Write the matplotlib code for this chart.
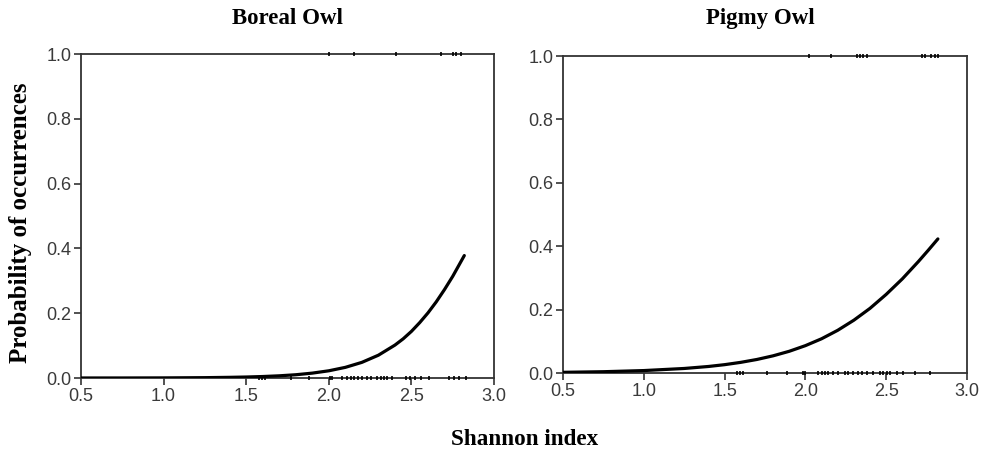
import numpy as np
import matplotlib
matplotlib.use('Agg')
import matplotlib.pyplot as plt

# fitted curves
boreal_x = [0.5, 0.75, 1.0, 1.25, 1.4, 1.5, 1.6, 1.7, 1.8, 1.9, 2.0, 2.1, 2.2, 2.3, 2.4,
            2.45, 2.5, 2.55, 2.6, 2.65, 2.7, 2.75, 2.82]
boreal_y = [0.0001, 0.00015, 0.0004, 0.0011, 0.0021, 0.0031, 0.0046, 0.0068, 0.0101, 0.0151,
            0.0223, 0.0329, 0.0483, 0.0704, 0.1016, 0.121, 0.144, 0.171, 0.201, 0.235,
            0.273, 0.314, 0.378]

pigmy_x = [0.5, 0.75, 1.0, 1.25, 1.4, 1.5, 1.6, 1.7, 1.8, 1.9, 2.0, 2.1, 2.2, 2.3, 2.4,
           2.5, 2.6, 2.7, 2.76, 2.82]
pigmy_y = [0.0022, 0.0041, 0.0077, 0.0143, 0.0206, 0.0263, 0.0336, 0.0427, 0.0542, 0.0685,
           0.0863, 0.108, 0.1347, 0.1666, 0.204, 0.248, 0.297, 0.352, 0.387, 0.423]

# observed sites (rug marks)
boreal_present = [2.00, 2.15, 2.405, 2.68, 2.75, 2.77, 2.80]
boreal_absent = [1.576, 1.596, 1.616, 1.768, 1.879, 2.007, 2.021, 2.082, 2.108, 2.132,
                 2.152, 2.179, 2.203, 2.234, 2.258, 2.294, 2.314, 2.335, 2.355, 2.381,
                 2.466, 2.492, 2.521, 2.557, 2.607, 2.729, 2.759, 2.790, 2.830]

pigmy_present = [2.024, 2.157, 2.317, 2.338, 2.358, 2.379, 2.72, 2.74, 2.78, 2.80, 2.82]
pigmy_absent = [1.575, 1.595, 1.616, 1.760, 1.884, 1.987, 1.998, 2.080, 2.101, 2.121,
                2.142, 2.173, 2.204, 2.245, 2.266, 2.296, 2.327, 2.348, 2.379, 2.420,
                2.462, 2.482, 2.503, 2.523, 2.565, 2.606, 2.678, 2.771]

titles = ['Boreal Owl', 'Pigmy Owl']
xticks = [0.5, 1.0, 1.5, 2.0, 2.5, 3.0]
yticks = [0.0, 0.2, 0.4, 0.6, 0.8, 1.0]

fig = plt.figure(figsize=(9.82, 4.55), dpi=100)
ax1 = fig.add_axes([0.0825, 0.1692, 0.4206, 0.712])
ax2 = fig.add_axes([0.5733, 0.1802, 0.4114, 0.6967])

panels = [
    (ax1, boreal_x, boreal_y, boreal_present, boreal_absent),
    (ax2, pigmy_x, pigmy_y, pigmy_present, pigmy_absent),
]

for ax, cx, cy, pres, absn in panels:
    ax.plot(cx, cy, color='black', lw=2.3, solid_capstyle='round',
            solid_joinstyle='round', zorder=3)
    ax.plot(pres, [1.0] * len(pres), ls='none', marker='|', ms=3.5, mew=1.2,
            color='black', clip_on=False, zorder=4)
    ax.plot(absn, [0.0] * len(absn), ls='none', marker='|', ms=3.5, mew=1.2,
            color='black', clip_on=False, zorder=4)
    ax.set_xlim(0.5, 3.0)
    ax.set_ylim(0.0, 1.0)
    ax.set_xticks(xticks)
    ax.set_yticks(yticks)
    ax.set_xticklabels(['%.1f' % t for t in xticks])
    ax.set_yticklabels(['%.1f' % t for t in yticks])
    ax.tick_params(direction='out', length=5, width=1.2, color='#333333',
                   labelsize=13, labelcolor='#3a3a3a', pad=2)
    for lab in ax.get_xticklabels() + ax.get_yticklabels():
        lab.set_family('Liberation Sans')
    for s in ax.spines.values():
        s.set_linewidth(1.3)
        s.set_color('#333333')

# panel titles sit on the same line
fig.text(0.2925, 0.960, titles[0], family='Liberation Serif', fontweight='bold',
         fontsize=16.5, ha='center', va='center')
fig.text(0.774, 0.960, titles[1], family='Liberation Serif', fontweight='bold',
         fontsize=16.5, ha='center', va='center')

fig.text(0.0205, 0.51, 'Probability of occurrences', rotation=90,
         family='Liberation Serif', fontweight='bold', fontsize=18,
         ha='center', va='center')
fig.text(0.534, 0.035, 'Shannon index', family='Liberation Serif',
         fontweight='bold', fontsize=16.7, ha='center', va='center')

fig.savefig('out.png', dpi=100)
